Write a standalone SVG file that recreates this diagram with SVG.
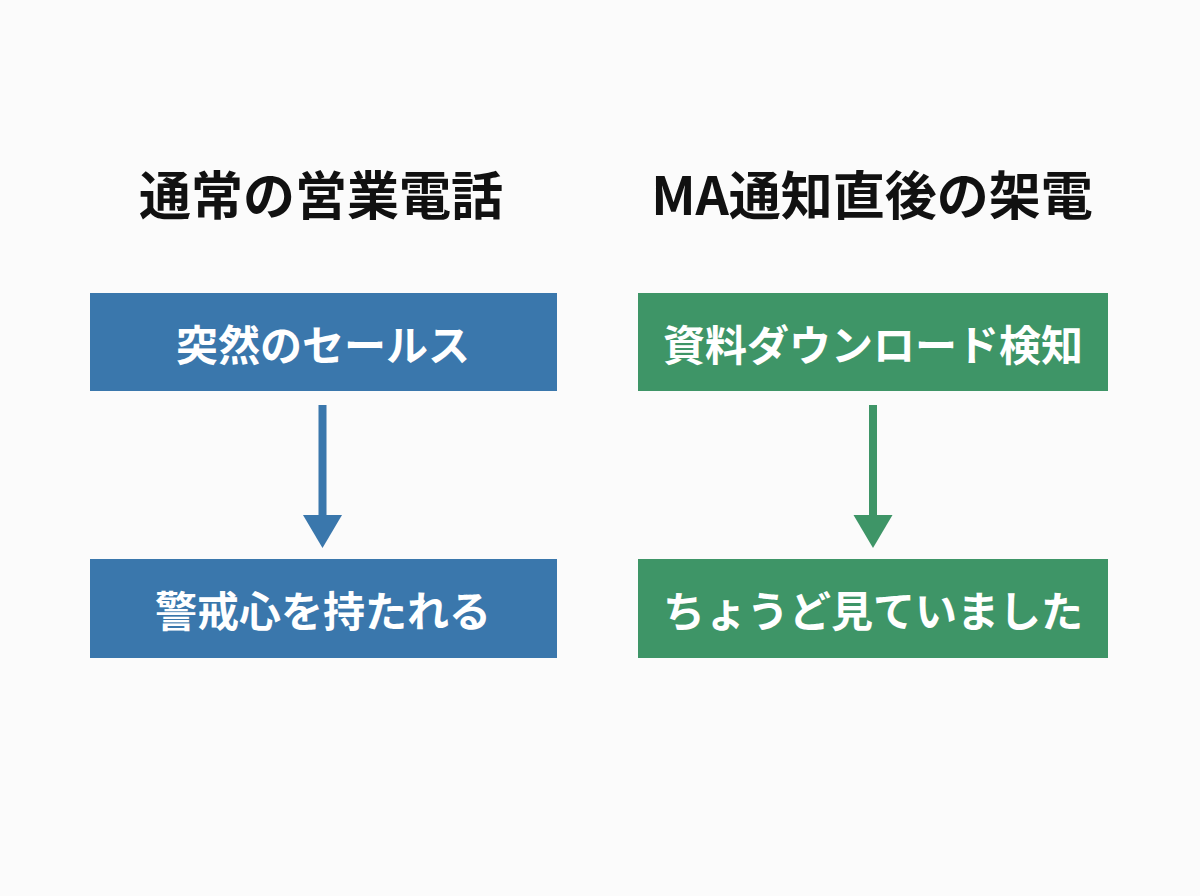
<svg xmlns="http://www.w3.org/2000/svg" width="1200" height="896" viewBox="0 0 1200 896">
<style>
.title{font-family:"Noto Sans CJK JP","Noto Sans",sans-serif;font-weight:700;font-size:52px;fill:#111;text-anchor:middle}
.lbl{font-family:"Noto Sans CJK JP","Noto Sans",sans-serif;font-weight:700;font-size:42px;fill:#fff;text-anchor:middle;dominant-baseline:central}
.blue{fill:#3a77ac}
.green{fill:#3e9567}
</style>
<rect width="1200" height="896" fill="#fbfbfb"/>
<text class="title" x="321" y="215">通常の営業電話</text>
<text class="title" x="872" y="215">MA通知直後の架電</text>
<g id="n1"><rect class="blue" x="90" y="293" width="467" height="98"/><text class="lbl" x="323" y="342">突然のセールス</text></g>
<g id="n2"><rect class="blue" x="90" y="559" width="467" height="99"/><text class="lbl" x="323" y="608">警戒心を持たれる</text></g>
<g id="n3"><rect class="green" x="638" y="293" width="470" height="98"/><text class="lbl" x="873" y="342">資料ダウンロード検知</text></g>
<g id="n4"><rect class="green" x="638" y="559" width="470" height="99"/><text class="lbl" x="873" y="608">ちょうど見ていました</text></g>
<g id="connectors">
<rect class="blue" x="318.5" y="405" width="8" height="112"/>
<polygon class="blue" points="303,515 342,515 322.5,548"/>
<rect class="green" x="869" y="405" width="8" height="112"/>
<polygon class="green" points="853.5,515 892.5,515 873,548"/>
</g>
</svg>
